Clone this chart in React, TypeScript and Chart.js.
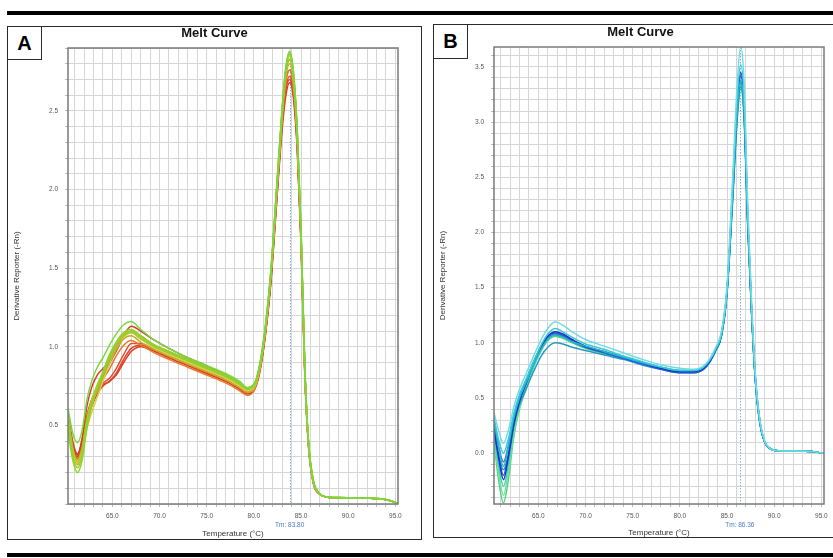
import React, { useEffect, useRef } from "react";
import { Chart, registerables } from "chart.js";
Chart.register(...registerables);

// ---------------- DATA ----------------
const chartTitle = "Melt Curve";
const yTitle = "Derivative Reporter (-Rn)";
const xTitle = "Temperature (°C)";
const xLabelValues = [65, 70, 75, 80, 85, 90, 95];
const tmA = 83.8;
const tmB = 86.36;

const tempsA = [60.3, 60.8, 61.3, 61.8, 62.3, 62.8, 63.4, 64.0, 64.7, 65.4, 66.2, 67.0, 68.0, 69.5, 71.0, 73.0, 75.0, 77.0, 78.5, 79.3, 80.0, 80.6, 81.2, 81.8, 82.4, 83.0, 83.4, 83.8, 84.2, 84.6, 85.0, 85.4, 85.8, 86.3, 86.9, 87.6, 89.0, 91.0, 93.0, 94.2, 95.2];

const a1 = [0.50, 0.36, 0.30, 0.37, 0.52, 0.62, 0.70, 0.75, 0.78, 0.82, 0.90, 0.97, 1.00, 0.97, 0.93, 0.88, 0.83, 0.78, 0.73, 0.70, 0.72, 0.83, 1.06, 1.40, 1.90, 2.38, 2.60, 2.68, 2.58, 2.25, 1.65, 0.82, 0.36, 0.13, 0.065, 0.045, 0.04, 0.038, 0.034, 0.025, 0.005];
const a2 = [0.52, 0.35, 0.29, 0.38, 0.55, 0.66, 0.73, 0.77, 0.80, 0.86, 0.95, 1.02, 1.02, 0.98, 0.94, 0.89, 0.84, 0.79, 0.74, 0.71, 0.73, 0.84, 1.07, 1.42, 1.92, 2.42, 2.65, 2.72, 2.62, 2.28, 1.68, 0.84, 0.37, 0.14, 0.068, 0.045, 0.04, 0.038, 0.034, 0.025, 0.005];
const a3 = [0.56, 0.38, 0.31, 0.42, 0.62, 0.74, 0.82, 0.86, 0.90, 0.97, 1.07, 1.13, 1.10, 1.04, 0.99, 0.93, 0.88, 0.82, 0.77, 0.73, 0.75, 0.86, 1.09, 1.44, 1.95, 2.46, 2.70, 2.76, 2.65, 2.30, 1.70, 0.85, 0.38, 0.14, 0.068, 0.045, 0.04, 0.038, 0.034, 0.025, 0.005];
const a4 = [0.54, 0.34, 0.26, 0.34, 0.52, 0.64, 0.72, 0.79, 0.86, 0.94, 1.01, 1.04, 1.01, 0.96, 0.92, 0.87, 0.82, 0.77, 0.72, 0.69, 0.72, 0.84, 1.08, 1.44, 1.94, 2.44, 2.68, 2.76, 2.64, 2.30, 1.70, 0.86, 0.38, 0.14, 0.068, 0.045, 0.04, 0.038, 0.034, 0.025, 0.005];
const a5 = [0.48, 0.32, 0.25, 0.32, 0.50, 0.62, 0.72, 0.80, 0.89, 0.98, 1.05, 1.07, 1.03, 0.98, 0.94, 0.89, 0.84, 0.79, 0.74, 0.71, 0.73, 0.85, 1.09, 1.45, 1.96, 2.47, 2.72, 2.80, 2.68, 2.33, 1.72, 0.86, 0.38, 0.14, 0.07, 0.045, 0.04, 0.038, 0.034, 0.025, 0.005];
const a6 = [0.50, 0.33, 0.26, 0.33, 0.48, 0.58, 0.68, 0.78, 0.90, 1.00, 1.06, 1.09, 1.05, 0.99, 0.95, 0.90, 0.85, 0.80, 0.75, 0.72, 0.74, 0.86, 1.10, 1.46, 1.97, 2.48, 2.74, 2.82, 2.70, 2.34, 1.72, 0.86, 0.38, 0.14, 0.07, 0.045, 0.04, 0.038, 0.034, 0.025, 0.005];
const a7 = [0.55, 0.35, 0.27, 0.35, 0.54, 0.66, 0.76, 0.84, 0.94, 1.02, 1.08, 1.10, 1.06, 1.00, 0.96, 0.91, 0.86, 0.81, 0.76, 0.73, 0.75, 0.87, 1.11, 1.47, 1.98, 2.50, 2.76, 2.85, 2.72, 2.36, 1.74, 0.87, 0.39, 0.15, 0.07, 0.046, 0.041, 0.039, 0.035, 0.026, 0.005];
const a8 = [0.46, 0.28, 0.20, 0.28, 0.48, 0.62, 0.74, 0.84, 0.95, 1.03, 1.09, 1.11, 1.07, 1.01, 0.97, 0.92, 0.87, 0.82, 0.77, 0.74, 0.76, 0.88, 1.12, 1.48, 2.00, 2.52, 2.78, 2.88, 2.75, 2.38, 1.75, 0.88, 0.39, 0.15, 0.07, 0.046, 0.041, 0.039, 0.035, 0.026, 0.005];
const a9 = [0.61, 0.45, 0.39, 0.47, 0.66, 0.78, 0.87, 0.93, 1.01, 1.08, 1.14, 1.16, 1.11, 1.04, 0.99, 0.93, 0.88, 0.83, 0.78, 0.74, 0.76, 0.88, 1.12, 1.48, 2.00, 2.52, 2.78, 2.87, 2.74, 2.37, 1.75, 0.88, 0.39, 0.15, 0.07, 0.046, 0.041, 0.039, 0.035, 0.026, 0.005];
const a10 = [0.53, 0.31, 0.23, 0.31, 0.50, 0.63, 0.74, 0.83, 0.93, 1.01, 1.07, 1.09, 1.05, 1.00, 0.96, 0.91, 0.86, 0.81, 0.76, 0.73, 0.75, 0.87, 1.11, 1.47, 1.99, 2.51, 2.77, 2.86, 2.73, 2.37, 1.74, 0.87, 0.39, 0.15, 0.07, 0.046, 0.041, 0.039, 0.035, 0.026, 0.005];
const a11 = [0.57, 0.36, 0.28, 0.36, 0.53, 0.64, 0.73, 0.81, 0.91, 1.00, 1.07, 1.10, 1.07, 1.01, 0.97, 0.92, 0.87, 0.82, 0.77, 0.74, 0.76, 0.87, 1.10, 1.46, 1.97, 2.48, 2.74, 2.83, 2.71, 2.35, 1.73, 0.87, 0.38, 0.15, 0.07, 0.046, 0.041, 0.039, 0.035, 0.026, 0.005];
const a12 = [0.58, 0.40, 0.32, 0.40, 0.56, 0.66, 0.72, 0.76, 0.78, 0.83, 0.92, 0.99, 1.01, 0.98, 0.94, 0.89, 0.84, 0.79, 0.74, 0.71, 0.73, 0.84, 1.07, 1.42, 1.92, 2.42, 2.64, 2.70, 2.60, 2.27, 1.67, 0.83, 0.37, 0.14, 0.068, 0.045, 0.04, 0.038, 0.034, 0.025, 0.005];

// listed back to front (last one drawn on top)
const curvesA = [a1, a2, a12, a3, a4, a5, a6, a11, a7, a10, a8, a9];
const colorsA = ["#e03a1e", "#e4502a", "#dc4630", "#d83a28", "#e8782a", "#c8a830", "#d8d040", "#a0b830", "#b4c828", "#9ccc30", "#8cd428", "#78d840"];

const tempsB = [60.3, 60.8, 61.3, 61.8, 62.4, 63.0, 63.7, 64.5, 65.3, 66.0, 66.8, 67.6, 68.6, 70.0, 72.0, 74.0, 76.0, 78.0, 80.0, 81.5, 82.5, 83.2, 83.8, 84.4, 85.0, 85.6, 86.1, 86.45, 86.8, 87.2, 87.6, 88.0, 88.5, 89.0, 89.6, 90.5, 92.0, 94.0, 95.2];

const b1 = [0.10, -0.25, -0.45, -0.25, 0.15, 0.40, 0.58, 0.78, 0.93, 1.02, 1.06, 1.04, 1.00, 0.95, 0.90, 0.86, 0.81, 0.77, 0.74, 0.74, 0.77, 0.84, 0.93, 1.06, 1.45, 2.30, 3.05, 3.30, 3.05, 2.05, 1.27, 0.66, 0.26, 0.10, 0.04, 0.022, 0.02, 0.015, 0.0];
const b2 = [0.14, -0.18, -0.38, -0.18, 0.18, 0.42, 0.60, 0.79, 0.94, 1.03, 1.07, 1.05, 1.01, 0.96, 0.91, 0.86, 0.81, 0.77, 0.74, 0.74, 0.77, 0.84, 0.93, 1.06, 1.45, 2.32, 3.08, 3.34, 3.08, 2.07, 1.28, 0.67, 0.27, 0.10, 0.04, 0.022, 0.02, 0.015, 0.0];
const b3 = [0.30, 0.05, -0.12, 0.05, 0.32, 0.50, 0.64, 0.80, 0.94, 1.03, 1.07, 1.05, 1.01, 0.97, 0.92, 0.87, 0.82, 0.78, 0.75, 0.75, 0.78, 0.85, 0.94, 1.07, 1.46, 2.34, 3.12, 3.38, 3.12, 2.08, 1.29, 0.67, 0.27, 0.10, 0.04, 0.022, 0.02, 0.015, 0.0];
const b4 = [0.37, 0.20, 0.09, 0.20, 0.42, 0.58, 0.72, 0.88, 1.03, 1.13, 1.19, 1.16, 1.10, 1.03, 0.97, 0.91, 0.85, 0.80, 0.77, 0.76, 0.79, 0.86, 0.96, 1.10, 1.52, 2.50, 3.38, 3.68, 3.38, 2.25, 1.38, 0.72, 0.29, 0.11, 0.04, 0.022, 0.02, 0.015, 0.0];
const b5 = [0.32, 0.12, 0.00, 0.12, 0.36, 0.53, 0.67, 0.83, 0.98, 1.08, 1.13, 1.10, 1.05, 0.99, 0.94, 0.88, 0.83, 0.78, 0.75, 0.75, 0.78, 0.85, 0.95, 1.08, 1.48, 2.42, 3.25, 3.52, 3.25, 2.16, 1.33, 0.70, 0.28, 0.10, 0.04, 0.022, 0.02, 0.015, 0.0];
const b6 = [0.22, -0.05, -0.24, -0.05, 0.26, 0.47, 0.63, 0.81, 0.96, 1.06, 1.10, 1.08, 1.03, 0.97, 0.92, 0.87, 0.82, 0.77, 0.74, 0.74, 0.77, 0.84, 0.94, 1.07, 1.48, 2.38, 3.18, 3.45, 3.18, 2.12, 1.31, 0.69, 0.28, 0.10, 0.04, 0.022, 0.02, 0.015, 0.0];
const b7 = [0.25, -0.02, -0.20, -0.02, 0.28, 0.48, 0.64, 0.82, 0.97, 1.06, 1.09, 1.07, 1.02, 0.96, 0.91, 0.86, 0.81, 0.76, 0.73, 0.73, 0.76, 0.83, 0.93, 1.06, 1.47, 2.36, 3.15, 3.42, 3.15, 2.10, 1.30, 0.68, 0.27, 0.10, 0.04, 0.022, 0.02, 0.015, 0.0];
const b8 = [0.28, 0.06, -0.08, 0.06, 0.33, 0.51, 0.66, 0.83, 0.97, 1.05, 1.08, 1.06, 1.01, 0.96, 0.91, 0.86, 0.81, 0.77, 0.74, 0.74, 0.77, 0.84, 0.94, 1.07, 1.47, 2.34, 3.10, 3.36, 3.10, 2.08, 1.29, 0.67, 0.27, 0.10, 0.04, 0.022, 0.02, 0.015, 0.0];
const b9 = [0.20, -0.02, -0.15, -0.02, 0.26, 0.44, 0.58, 0.74, 0.88, 0.96, 1.00, 0.99, 0.96, 0.93, 0.89, 0.85, 0.80, 0.76, 0.73, 0.73, 0.76, 0.83, 0.93, 1.06, 1.45, 2.30, 3.06, 3.32, 3.06, 2.06, 1.28, 0.66, 0.26, 0.10, 0.04, 0.022, 0.02, 0.015, 0.0];
const b10 = [0.16, -0.12, -0.30, -0.12, 0.22, 0.45, 0.62, 0.80, 0.95, 1.04, 1.08, 1.06, 1.02, 0.97, 0.92, 0.87, 0.82, 0.78, 0.75, 0.75, 0.78, 0.85, 0.94, 1.07, 1.46, 2.33, 3.10, 3.36, 3.10, 2.08, 1.29, 0.67, 0.27, 0.10, 0.04, 0.022, 0.02, 0.015, 0.0];

// listed back to front (last one drawn on top)
const curvesB = [b1, b2, b10, b9, b8, b7, b6, b3, b5, b4];
const colorsB = ["#4cd67a", "#78e0a0", "#40d0b8", "#2898c8", "#3a78d0", "#2a5ad6", "#1a36c0", "#20b8c8", "#38c8d8", "#70dce6"];

// ---------------- CHART ----------------
const FONT = 'Arial, "Liberation Sans", sans-serif';

type PanelSpec = {
  temps: number[];
  curves: number[][];
  colors: string[];
  tm: number;
  yMin: number;
  yMax: number;
  hideZero: boolean;
  plotTop: number;
  xAxisHeight: number;
  titleY: number;
  xTitlePad: number;
};

function makeChart(canvas: HTMLCanvasElement, s: PanelSpec) {
  const overlay = {
    id: "overlay",
    beforeDatasetsDraw(chart: any) {
      const { ctx, chartArea } = chart;
      const x = chart.scales.x.getPixelForValue(s.tm);
      ctx.save();
      ctx.strokeStyle = "#86acd8";
      ctx.lineWidth = 1;
      ctx.setLineDash([1.5, 1.5]);
      ctx.beginPath();
      ctx.moveTo(Math.round(x) + 0.5, chartArea.top);
      ctx.lineTo(Math.round(x) + 0.5, chartArea.bottom);
      ctx.stroke();
      ctx.restore();
    },
    afterDraw(chart: any) {
      const { ctx, chartArea, width } = chart;
      ctx.save();
      ctx.strokeStyle = "#7a7a7a";
      ctx.lineWidth = 1.5;
      ctx.strokeRect(chartArea.left, chartArea.top, chartArea.right - chartArea.left, chartArea.bottom - chartArea.top);
      ctx.fillStyle = "#111";
      ctx.font = `bold 13px ${FONT}`;
      ctx.textAlign = "center";
      ctx.textBaseline = "middle";
      ctx.fillText(chartTitle, width / 2, s.titleY);
      const x = chart.scales.x.getPixelForValue(s.tm);
      ctx.fillStyle = "#4a7cc4";
      ctx.font = `6.5px ${FONT}`;
      ctx.fillText("Tm: " + s.tm.toFixed(2), x, chartArea.bottom + 21);
      ctx.restore();
    },
  };

  const n = s.curves.length;
  const datasets = s.curves.map((vals, i) => ({
    data: s.temps.map((t, j) => ({ x: t, y: vals[j] })),
    borderColor: s.colors[i],
    borderWidth: 1.5,
    pointRadius: 0,
    fill: false,
    order: n - i,
    cubicInterpolationMode: "monotone" as const,
  }));

  return new Chart(canvas, {
    type: "line",
    data: { datasets },
    plugins: [overlay],
    options: {
      animation: false,
      responsive: false,
      events: [],
      layout: { padding: { left: 0, right: 24, top: s.plotTop, bottom: 0 } },
      plugins: { legend: { display: false }, tooltip: { enabled: false }, title: { display: false } },
      scales: {
        x: {
          type: "linear",
          min: 60.3,
          max: 95.28,
          afterFit: (scale: any) => { scale.height = s.xAxisHeight; },
          grid: { color: "#d6d6d6", lineWidth: 1, drawTicks: true, tickLength: 3, tickColor: "#bbb" },
          border: { display: false },
          ticks: {
            stepSize: 1,
            includeBounds: false,
            autoSkip: false,
            maxRotation: 0,
            padding: 5,
            color: "#555",
            font: { family: FONT, size: 6.5 },
            callback: (v: any) => {
              const val = Number(v);
              return xLabelValues.some((t) => Math.abs(t - val) < 1e-6) ? val.toFixed(1) : "";
            },
          },
          title: { display: true, text: xTitle, color: "#333", font: { family: FONT, size: 8 }, padding: { top: 0, bottom: s.xTitlePad } },
        },
        y: {
          type: "linear",
          min: s.yMin,
          max: s.yMax,
          afterFit: (scale: any) => { scale.width = 61; },
          grid: { color: "#d6d6d6", lineWidth: 1, drawTicks: true, tickLength: 3, tickColor: "#bbb" },
          border: { display: false },
          ticks: {
            stepSize: 0.1,
            includeBounds: false,
            autoSkip: false,
            padding: 7,
            color: "#555",
            font: { family: FONT, size: 6.5 },
            callback: (v: any) => {
              const val = Number(v);
              if (Math.abs(val * 2 - Math.round(val * 2)) > 1e-6) return "";
              if (s.hideZero && Math.abs(val) < 1e-6) return "";
              return val.toFixed(1);
            },
          },
          title: { display: true, text: yTitle, color: "#333", font: { family: FONT, size: 8 }, padding: { top: 5, bottom: 0 } },
        },
      },
    },
  });
}

function Panel(props: { left: number; top: number; label: string; labelH: number; spec: PanelSpec }) {
  const ref = useRef<HTMLCanvasElement>(null);
  useEffect(() => {
    if (!ref.current) return;
    const c = makeChart(ref.current, props.spec);
    return () => c.destroy();
  }, []);
  const W = 415, H = 514;
  return (
    <div style={{ position: "absolute", left: props.left, top: props.top, width: W, height: H }}>
      <canvas ref={ref} width={W} height={H} style={{ position: "absolute", left: 0, top: 0, width: W, height: H }} />
      <div style={{ position: "absolute", left: 0, top: 0, width: W, height: H, border: "1.5px solid #2a2a2a", boxSizing: "border-box" }} />
      <div
        style={{
          position: "absolute", left: 0, top: 0, width: 35, height: props.labelH,
          border: "1.5px solid #2a2a2a", boxSizing: "border-box", background: "#fff",
          display: "flex", alignItems: "center", justifyContent: "center",
          font: `bold 20px ${FONT}`, color: "#000",
        }}
      >
        {props.label}
      </div>
    </div>
  );
}

export default function App() {
  const specA: PanelSpec = {
    temps: tempsA, curves: curvesA, colors: colorsA, tm: tmA,
    yMin: 0, yMax: 2.9, hideZero: true, plotTop: 22, xAxisHeight: 36, titleY: 7.5, xTitlePad: 1,
  };
  const specB: PanelSpec = {
    temps: tempsB, curves: curvesB, colors: colorsB, tm: tmB,
    yMin: -0.46, yMax: 3.68, hideZero: false, plotTop: 23, xAxisHeight: 34, titleY: 8, xTitlePad: 0,
  };
  return (
    <div style={{ position: "fixed", left: 0, top: 0, width: 833, height: 558, overflow: "hidden", background: "#fff" }}>
      <div style={{ position: "absolute", left: 7, top: 11, width: 826, height: 4, background: "#000" }} />
      <Panel left={7} top={26} label="A" labelH={34} spec={specA} />
      <Panel left={433} top={24} label="B" labelH={35} spec={specB} />
      <div style={{ position: "absolute", left: 7, top: 553, width: 826, height: 4, background: "#000" }} />
    </div>
  );
}
